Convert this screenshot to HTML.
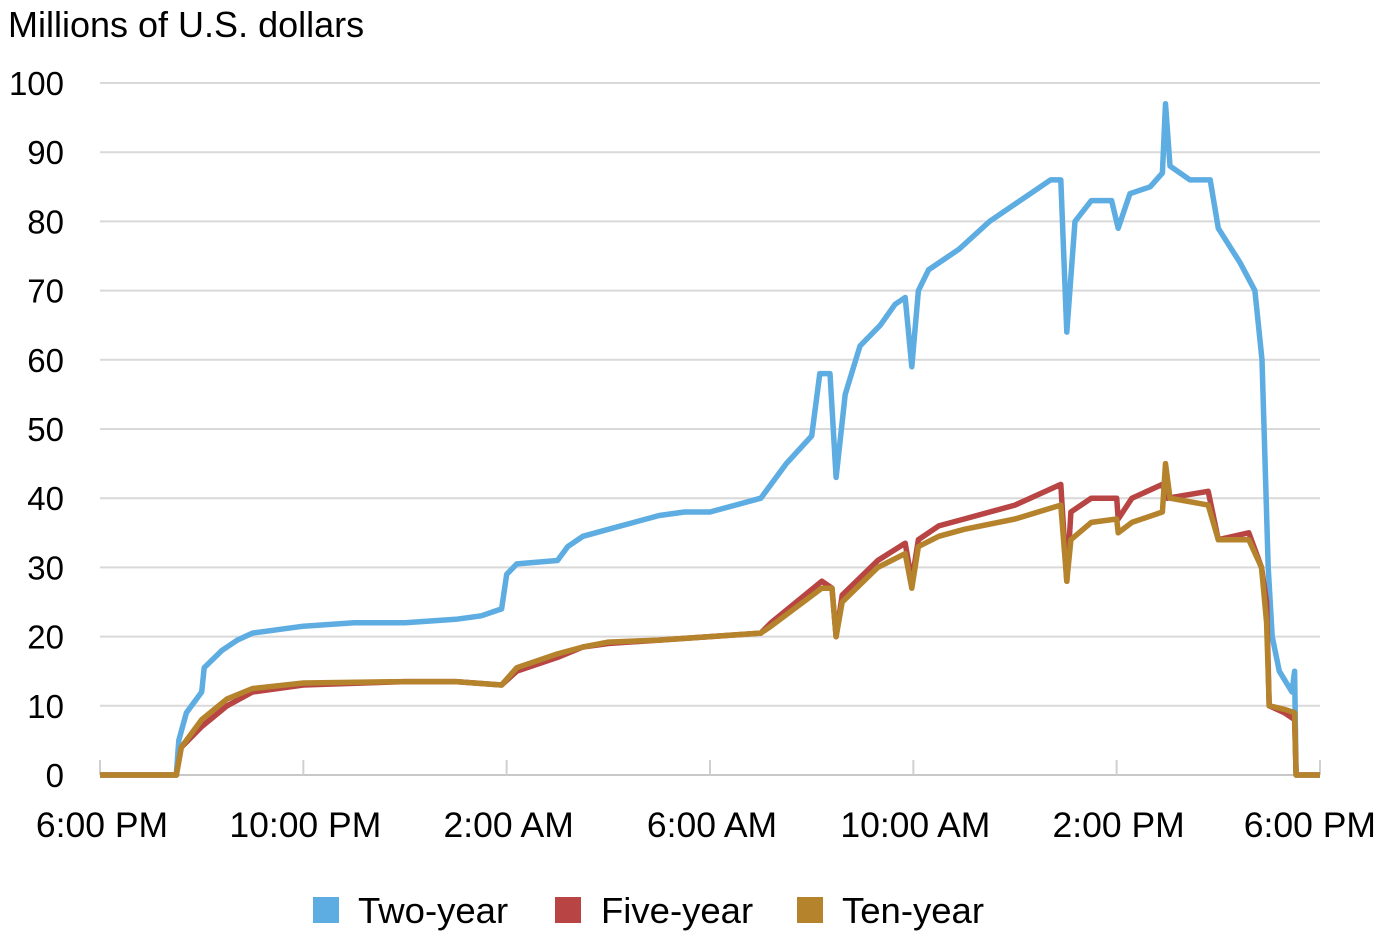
<!DOCTYPE html>
<html><head><meta charset="utf-8"><style>
body{margin:0;background:#fff;}
svg text{font-family:"Liberation Sans",Arial,sans-serif;fill:#000;}
</style></head><body>
<svg id="chart" width="1380" height="937" xmlns="http://www.w3.org/2000/svg">
<text x="8" y="37" font-size="36">Millions of U.S. dollars</text>
<g id="grid"></g><g id="axes"></g><g id="lines"></g>
<g>
<rect x="313" y="897" width="26" height="26" fill="#5dade2"/>
<text x="358" y="923" font-size="36.5">Two-year</text>
<rect x="555" y="897" width="26" height="26" fill="#b84444"/>
<text x="601" y="923" font-size="36.5">Five-year</text>
<rect x="797" y="897" width="26" height="26" fill="#b5832c"/>
<text x="842" y="923" font-size="36.5">Ten-year</text>
</g>
</svg>
<script>
const yTicks=[0,10,20,30,40,50,60,70,80,90,100];
const xTickHours=[0,4,8,12,16,20,24];
const xTickLabels=["6:00 PM","10:00 PM","2:00 AM","6:00 AM","10:00 AM","2:00 PM","6:00 PM"];
const twoT=[0,1.5,1.55,1.7,1.9,2.0,2.05,2.4,2.7,3,4,5,6,7,7.5,7.9,8.0,8.2,9,9.2,9.5,10,11,11.5,12,12.5,13,13.5,14,14.16,14.36,14.48,14.66,14.95,15.35,15.64,15.84,15.97,16.1,16.3,16.9,17.5,18.1,18.7,18.9,19.02,19.18,19.5,19.9,20.03,20.26,20.66,20.9,20.96,21.05,21.44,21.84,22,22.43,22.72,22.86,22.98,23.06,23.2,23.45,23.5,23.53,24];
const twoV=[0,0,5,9,11,12,15.5,18,19.5,20.5,21.5,22,22,22.5,23,24,29,30.5,31,33,34.5,35.5,37.5,38,38,39,40,45,49,58,58,43,55,62,65,68,69,59,70,73,76,80,83,86,86,64,80,83,83,79,84,85,87,97,88,86,86,79,74,70,60,30,20,15,12,15,0,0];
const fiveT=[0,1.5,1.6,2,2.5,3,4,6,7,7.9,8.2,9,9.5,10,11,12,13,13.2,14.2,14.4,14.48,14.6,15.3,15.84,15.97,16.1,16.5,17,18,18.9,19.02,19.1,19.5,20,20.03,20.3,20.9,21,21.8,22,22.6,22.85,22.95,23,23.3,23.5,23.53,24];
const fiveV=[0,0,4,7,10,12,13,13.5,13.5,13,15,17,18.5,19,19.5,20,20.5,22,28,27,20,26,31,33.5,28,34,36,37,39,42,28,38,40,40,37,40,42,40,41,34,35,30,25,10,9,8,0,0];
const tenT=[0,1.5,1.6,2,2.5,3,4,6,7,7.9,8.2,9,9.5,10,11,12,13,13.2,14.2,14.4,14.48,14.6,15.3,15.84,15.97,16.1,16.5,17,18,18.9,19.02,19.1,19.5,20,20.03,20.3,20.9,20.96,21.05,21.8,22,22.6,22.85,22.95,23,23.3,23.5,23.53,24];
const tenV=[0,0,4,8,11,12.5,13.3,13.5,13.5,13,15.5,17.5,18.5,19.2,19.5,20,20.5,21.5,27,27,20,25,30,32,27,33,34.5,35.5,37,39,28,34,36.5,37,35,36.5,38,45,40,39,34,34,30,22,10,9.5,9,0,0];
const X=h=>100+h*(1220/24), Y=v=>775-v*6.92;
const ns="http://www.w3.org/2000/svg";
const grid=document.getElementById('grid'),axes=document.getElementById('axes'),lines=document.getElementById('lines');
yTicks.forEach(v=>{
 const l=document.createElementNS(ns,'line');
 
 
 l.setAttribute('x1',100);l.setAttribute('x2',1320);l.setAttribute('y1',Y(v));l.setAttribute('y2',Y(v));
 l.setAttribute('stroke',v===0?'#c8c8c8':'#d9d9d9');l.setAttribute('stroke-width',2);grid.appendChild(l);
 const t=document.createElementNS(ns,'text');
 
 
 t.setAttribute('x',64);t.setAttribute('y',Y(v)+12);t.setAttribute('text-anchor','end');t.setAttribute('font-size',33);
 t.textContent=v;axes.appendChild(t);
});
xTickHours.forEach((h,i)=>{
 const l=document.createElementNS(ns,'line');
 
 
 l.setAttribute('x1',X(h));l.setAttribute('x2',X(h));l.setAttribute('y1',760);l.setAttribute('y2',775);
 l.setAttribute('stroke','#d0d0d0');l.setAttribute('stroke-width',2);axes.appendChild(l);
 const t=document.createElementNS(ns,'text');
 
 
 const last=i===xTickHours.length-1;
 t.setAttribute('x',last?1376:X(h)+2);t.setAttribute('y',837);t.setAttribute('text-anchor',last?'end':'middle');t.setAttribute('font-size',35.5);
 t.textContent=xTickLabels[i];axes.appendChild(t);
});
function line(T,V,c,name){
 const p=document.createElementNS(ns,'polyline');
 
 
 p.setAttribute('points',T.map((t,i)=>X(t).toFixed(1)+','+Y(V[i]).toFixed(1)).join(' '));
 p.setAttribute('fill','none');p.setAttribute('stroke',c);p.setAttribute('stroke-width',5.5);p.setAttribute('stroke-linejoin','round');
 lines.appendChild(p);
}
line(twoT,twoV,'#5dade2','two-year-line');
line(fiveT,fiveV,'#b84444','five-year-line');
line(tenT,tenV,'#b5832c','ten-year-line');
</script>
</body></html>
